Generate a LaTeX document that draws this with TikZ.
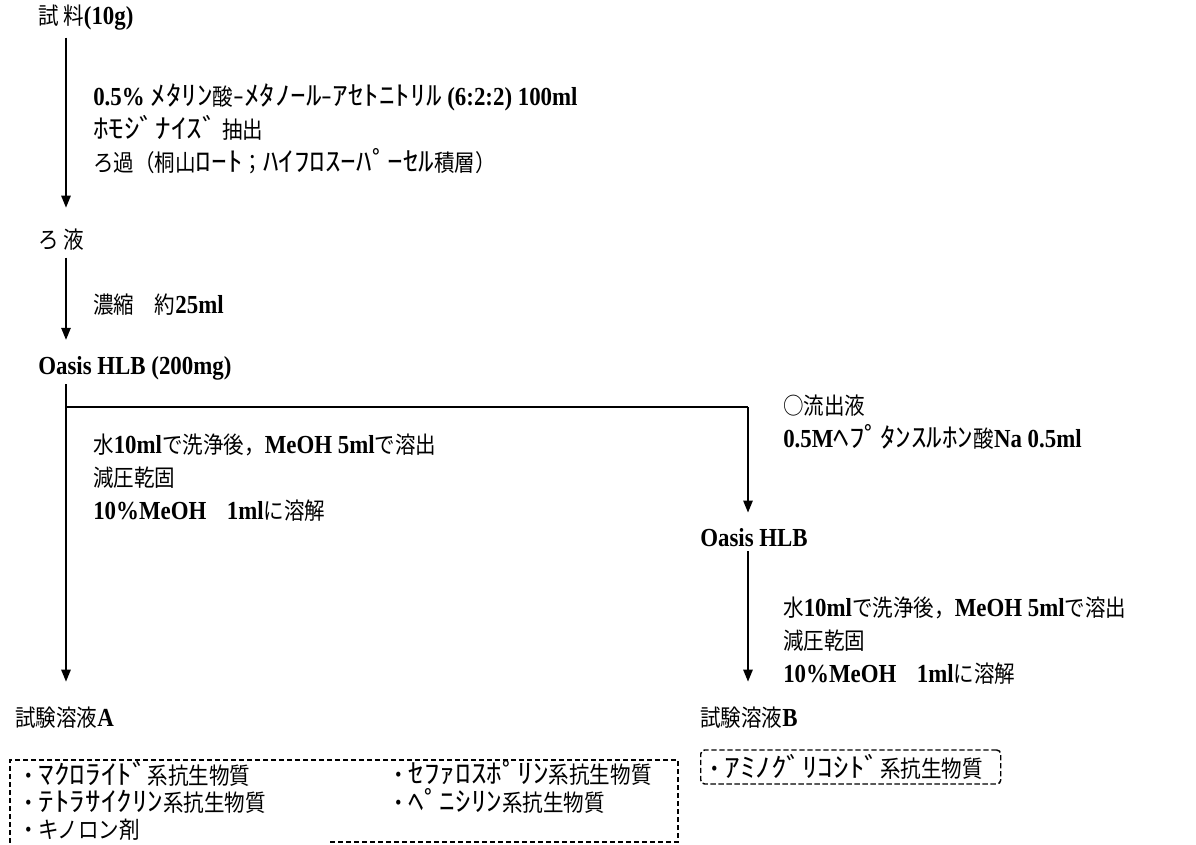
\documentclass[tikz,border=0pt]{standalone}
\usepackage{fontspec}
\setmainfont[FakeStretch=0.88]{Liberation Serif}
\newfontfamily\jpf[FakeStretch=0.88]{Noto Sans CJK JP}
\newfontfamily\hwf[FakeStretch=1.15]{Noto Sans CJK JP}
\newcommand\J[1]{{\jpf\mdseries\fontsize{17.5}{24.75}\selectfont #1}}
\newcommand\HW[1]{{\hwf\mdseries\fontsize{20.3}{24.75}\selectfont #1}}
\usetikzlibrary{arrows.meta}
\begin{document}
\begin{tikzpicture}[x=0.75pt,y=-0.75pt,
  every node/.style={inner ysep=2pt,inner xsep=0pt},
  lbl/.style={anchor=west,align=left,font=\fontsize{19.5}{24.75}\selectfont\bfseries},
  arr/.style={line width=1.3pt,-{Triangle[width=7pt,length=9pt]}},
  dbox/.style={line width=1.1pt,dash pattern=on 4pt off 2pt}]
\useasboundingbox[fill=white] (0,0) rectangle (1196,844);
\coordinate (ax) at (66,0);
\coordinate (bx) at (748,0);
\coordinate (by) at (0,407);

\node[lbl] (s1) at (38,18) {\J{試 料}(10g)};
\node[lbl] (t1) at (93,129) {0.5\% \HW{ﾒﾀﾘﾝ}\J{酸}\HW{-ﾒﾀﾉｰﾙ-ｱｾﾄﾆﾄﾘﾙ} (6:2:2) 100ml\\ \HW{ﾎﾓｼﾞﾅｲｽﾞ}\J{ 抽出}\\ \J{ろ過（桐山}\HW{ﾛｰﾄ}\J{；}\HW{ﾊｲﾌﾛｽｰﾊﾟｰｾﾙ}\J{積層）}};
\node[lbl] (r1) at (38,240) {\J{ろ 液}};
\node[lbl] (t2) at (93,305) {\J{濃縮　約}25ml};
\node[lbl] (o1) at (38,368) {Oasis HLB (200mg)};
\node[lbl] (t3) at (93,478) {\J{水}10ml\J{で洗浄後，}MeOH 5ml\J{で溶出}\\ \J{減圧乾固}\\ 10\%MeOH\J{　}1ml\J{に溶解}};
\node[lbl] (t4) at (783,422) {\J{○流出液}\\ 0.5M\HW{ﾍﾌﾟﾀﾝｽﾙﾎﾝ}\J{酸}Na 0.5ml};
\node[lbl] (o2) at (700,538) {Oasis HLB};
\node[lbl] (t5) at (783,641) {\J{水}10ml\J{で洗浄後，}MeOH 5ml\J{で溶出}\\ \J{減圧乾固}\\ 10\%MeOH\J{　}1ml\J{に溶解}};
\node[lbl] (tA) at (15,718) {\J{試験溶液}A};
\node[lbl] (tB) at (700,718) {\J{試験溶液}B};

\draw[arr,shorten <=3pt,shorten >=14pt] (s1.south -| ax) -- (r1.north -| ax);
\draw[arr,shorten <=3pt,shorten >=10pt] (r1.south -| ax) -- (o1.north -| ax);
\draw[arr,shorten <=1pt,shorten >=17pt] (o1.south -| ax) -- (tA.north -| ax);
\draw[line width=1.3pt] (ax |- by) -- (bx |- by);
\draw[arr,shorten >=10pt] (bx |- by) -- (o2.north -| bx);
\draw[arr,shorten <=1pt,shorten >=17pt] (o2.south -| bx) -- (tB.north -| bx);

% box A
\draw[dbox] (330,842) -- (678,842) -- (678,760) -- (10,760) -- (10,844);
\node[lbl] (a1) at (18,774) {\J{・}\HW{ﾏｸﾛﾗｲﾄﾞ}\J{系抗生物質}};
\node[lbl] (a2) at (18,802) {\J{・}\HW{ﾃﾄﾗｻｲｸﾘﾝ}\J{系抗生物質}};
\node[lbl] (a3) at (18,830) {\J{・キノロン剤}};
\node[lbl] (a4) at (388,773) {\J{・}\HW{ｾﾌｧﾛｽﾎﾟﾘﾝ}\J{系抗生物質}};
\node[lbl] (a5) at (388,801) {\J{・}\HW{ﾍﾟﾆｼﾘﾝ}\J{系抗生物質}};

% box B
\node[dbox,draw,rounded corners=3pt,anchor=west,minimum width=225pt,minimum height=25.5pt,text width=220pt,align=left,inner xsep=2pt] (bB) at (700,767) {\J{・}\HW{ｱﾐﾉｸﾞﾘｺｼﾄﾞ}\J{系抗生物質}};
\end{tikzpicture}
\end{document}
